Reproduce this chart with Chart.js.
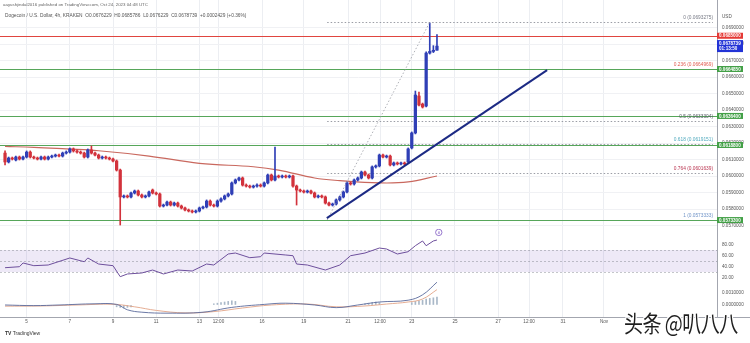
<!DOCTYPE html>
<html><head><meta charset="utf-8">
<script src="https://cdn.jsdelivr.net/npm/chart.js@4.4.1/dist/chart.umd.min.js"></script>
<style>
html,body{margin:0;padding:0;background:#fff;}
body{width:750px;height:343px;overflow:hidden;position:relative;font-family:"Liberation Sans",Arial,sans-serif;}
canvas{position:absolute;left:0;}
.txt{position:absolute;white-space:nowrap;line-height:1;}
</style></head><body>
<canvas id="cMain" width="750" height="229" style="top:0px;width:750px;height:229px"></canvas>
<canvas id="cRsi" width="750" height="51" style="top:229px;width:750px;height:51px"></canvas>
<canvas id="cMacd" width="750" height="51" style="top:280px;width:750px;height:51px"></canvas>
<div class="txt" style="left:3px;top:3px;font-size:4.4px;color:#666">aayushjindal2016 published on TradingView.com, Oct 24, 2023 04:48 UTC</div>
<div class="txt" style="left:5px;top:14px;font-size:4.8px;color:#555">Dogecoin / U.S. Dollar, 4h, KRAKEN&nbsp; O0.0676229&nbsp; H0.0685786&nbsp; L0.0676229&nbsp; C0.0678739&nbsp; +0.0002429 (+0.36%)</div>
<div class="txt" style="left:5px;top:331px;font-size:5px;color:#333"><b>TV</b> TradingView</div>
<div class="txt" style="left:624px;top:310px;font-size:19px;color:#1e1e1e;font-family:'Noto Sans CJK SC';letter-spacing:-0.5px;transform:scaleY(1.22);transform-origin:0 0;text-shadow:1px 1px 0 #fff,-1px -1px 0 #fff,1px -1px 0 #fff,-1px 1px 0 #fff">头条 @叭八八</div>
<script>
// ---------- DATA ----------
const opens = [0.06139,0.06085,0.06109,0.06097,0.06115,0.06103,0.06115,0.06145,0.06115,0.06109,
0.06103,0.06115,0.06103,0.06115,0.06121,0.06127,0.06121,0.06139,0.06145,0.06164,
0.06152,0.06145,0.06139,0.06115,0.06158,0.06139,0.06127,0.06109,0.06115,0.06109,
0.06103,0.06091,0.06036,0.05873,0.05879,0.05873,0.05897,0.05909,0.05885,0.05873,
0.05879,0.05915,0.05897,0.05891,0.05818,0.05824,0.05842,0.05824,0.05836,0.05818,
0.05806,0.05794,0.05788,0.05782,0.05788,0.05806,0.05812,0.05848,0.05824,0.05818,
0.05848,0.05861,0.05879,0.05891,0.05958,0.05976,0.05988,0.05945,0.05939,0.05933,
0.05939,0.05945,0.05939,0.05958,0.06006,0.05976,0.06000,0.05994,0.06000,0.05994,
0.06000,0.05939,0.05915,0.05909,0.05903,0.05909,0.05897,0.05873,0.05879,0.05873,
0.05836,0.05824,0.05830,0.05855,0.05873,0.05903,0.05958,0.05952,0.05976,0.05988,
0.06024,0.06006,0.05988,0.06055,0.06061,0.06127,0.06115,0.06121,0.06067,0.06079,
0.06073,0.06079,0.06085,0.06170,0.06261,0.06485,0.06436,0.06424,0.06745,0.06755,
0.0676229];
const closes = [0.06085,0.06109,0.06103,0.06115,0.06103,0.06115,0.06145,0.06115,0.06109,0.06103,
0.06115,0.06103,0.06115,0.06121,0.06127,0.06121,0.06139,0.06145,0.06164,0.06152,
0.06145,0.06139,0.06115,0.06158,0.06139,0.06127,0.06109,0.06115,0.06109,0.06103,
0.06091,0.06036,0.05873,0.05879,0.05873,0.05897,0.05909,0.05885,0.05873,0.05879,
0.05903,0.05897,0.05891,0.05818,0.05824,0.05842,0.05824,0.05836,0.05818,0.05806,
0.05794,0.05788,0.05782,0.05788,0.05806,0.05812,0.05848,0.05824,0.05818,0.05848,
0.05861,0.05879,0.05891,0.05958,0.05976,0.05988,0.05945,0.05939,0.05933,0.05939,
0.05945,0.05939,0.05958,0.06006,0.05976,0.06000,0.05994,0.06000,0.05994,0.06000,
0.05939,0.05915,0.05909,0.05903,0.05909,0.05897,0.05873,0.05879,0.05873,0.05836,
0.05824,0.05830,0.05855,0.05873,0.05903,0.05958,0.05952,0.05976,0.05988,0.06024,
0.06006,0.05988,0.06055,0.06061,0.06127,0.06115,0.06121,0.06067,0.06079,0.06073,
0.06079,0.06073,0.06164,0.06261,0.06491,0.06430,0.06418,0.06745,0.06755,0.06762,
0.0678739];
const highs = [0.06152,0.06115,0.06115,0.06121,0.06121,0.06121,0.06152,0.06152,0.06121,0.06115,
0.06121,0.06121,0.06121,0.06127,0.06133,0.06133,0.06145,0.06152,0.06170,0.06170,
0.06158,0.06152,0.06145,0.06164,0.06182,0.06145,0.06133,0.06121,0.06121,0.06115,
0.06109,0.06097,0.06042,0.05885,0.05885,0.05903,0.05915,0.05915,0.05891,0.05885,
0.05909,0.05921,0.05903,0.05897,0.05830,0.05848,0.05848,0.05842,0.05842,0.05824,
0.05812,0.05800,0.05794,0.05794,0.05812,0.05818,0.05855,0.05855,0.05830,0.05855,
0.05867,0.05885,0.05897,0.05964,0.05982,0.05994,0.05994,0.05952,0.05945,0.05945,
0.05952,0.05952,0.05964,0.06012,0.06012,0.06176,0.06006,0.06006,0.06006,0.06006,
0.06006,0.05945,0.05921,0.05915,0.05915,0.05915,0.05903,0.05885,0.05885,0.05879,
0.05842,0.05836,0.05861,0.05879,0.05909,0.05964,0.05964,0.05982,0.05994,0.06030,
0.06030,0.06012,0.06061,0.06067,0.06133,0.06133,0.06127,0.06127,0.06085,0.06085,
0.06085,0.06085,0.06170,0.06267,0.06515,0.06509,0.06442,0.06752,0.06927,0.06790,
0.0685786];
const lows = [0.06067,0.06079,0.06097,0.06091,0.06097,0.06097,0.06109,0.06109,0.06103,0.06097,
0.06097,0.06097,0.06097,0.06109,0.06115,0.06115,0.06115,0.06133,0.06139,0.06145,
0.06139,0.06133,0.06109,0.06109,0.06133,0.06121,0.06103,0.06103,0.06103,0.06097,
0.06085,0.06030,0.05703,0.05867,0.05867,0.05867,0.05891,0.05879,0.05867,0.05867,
0.05873,0.05891,0.05885,0.05812,0.05812,0.05818,0.05818,0.05818,0.05812,0.05800,
0.05788,0.05782,0.05776,0.05776,0.05782,0.05800,0.05806,0.05818,0.05812,0.05812,
0.05842,0.05855,0.05873,0.05885,0.05952,0.05970,0.05939,0.05933,0.05927,0.05927,
0.05933,0.05933,0.05933,0.05952,0.05970,0.05970,0.05988,0.05988,0.05988,0.05988,
0.05933,0.05824,0.05903,0.05897,0.05897,0.05891,0.05867,0.05867,0.05867,0.05830,
0.05818,0.05818,0.05824,0.05848,0.05867,0.05897,0.05945,0.05945,0.05970,0.05982,
0.06000,0.05982,0.05982,0.06048,0.06055,0.06109,0.06109,0.06061,0.06061,0.06067,
0.06067,0.06067,0.06079,0.06164,0.06255,0.06424,0.06412,0.06418,0.06739,0.06748,
0.0676229];

// moving average (red line) read at selected candles
const maIdx = [0,8,17,26,40,54,69,76,86,93,104,112,120];
const maVal = [0.06179,0.06174,0.06164,0.06153,0.06121,0.06077,0.06056,0.06036,0.05988,0.05972,0.05958,0.05964,0.06000];

// RSI read at selected candles
const rsiIdx = [0,4,5,8,12,18,22,23,26,30,32,34,38,41,44,48,52,56,58,62,64,68,71,72,78,80,81,84,89,93,96,100,104,106,109,112,114,116,117,119,120];
const rsiVal = [37.8,39.6,46.4,41.5,42.7,55.5,48.7,55.5,44.5,41.5,21.5,26.4,28.2,33.6,26.4,33.6,31.8,44.5,42.7,62.7,64.5,56.0,57.8,64.5,60.9,59.6,44.5,42.7,33.6,42.7,59.6,64.5,73.6,71.8,62.7,66.9,77.8,86.4,77.8,86.4,88.2];

// MACD
const macdIdx = [0,8,15,25,31,34,38,45,55,63,72,78,86,92,98,104,112,116,120];
const macdVal = [0,-0.00005,0,0.0001,0.00005,-0.0004,-0.0006,-0.00068,-0.0006,-0.0002,0.00005,0.00015,0,-0.00022,0,0.00025,0.0004,0.00085,0.0019];
const sigIdx = [0,10,20,30,36,42,50,58,66,74,84,92,100,106,112,116,120];
const sigVal = [-0.0001,-0.00008,0,0.00006,-0.00015,-0.00045,-0.00066,-0.00055,-0.00025,0,0.00008,-0.00015,-0.00008,0.00008,0.00025,0.0005,0.00128];
const histIdx = [31,32,33,34,35,58,59,60,61,62,63,64,100,101,102,103,104,113,114,115,116,117,118,119,120];
const histVal = [-0.00015,-0.0002,-0.00025,-0.0002,-0.00015,0.0001,0.00015,0.0002,0.00025,0.0003,0.00035,0.0003,0.0001,0.00015,0.0002,0.00025,0.0002,0.0002,0.0003,0.00035,0.0004,0.0005,0.00055,0.0006,0.00065];

// x axis ticks (candle index) and labels
const xTickPos = [6,18,30,42,54,59.3,71.4,83,95.3,104.2,113,125,137,145.6,155,166.4];
const xTickLabels = ["5","7","9","11","13","12:00","16","19","21","12:00","23","25","27","12:00","31","Nov"];
const xRange = [-1.4, 197.8];

// price axis
const priceRange = [0.056788, 0.070667];
const priceTicks = [0.057,0.058,0.059,0.060,0.061,0.062,0.063,0.064,0.065,0.066,0.067,0.068,0.069];
const rsiRange = [15.45, 108.18];
const rsiTicks = [20,40,60,80];
const rsiBand = [30,70];
const macdRange = [-0.001, 0.0020833];
const macdTicks = [0,0.001];

// drawn levels
const redLevel = 0.0685;
const greenLevels = [0.066485, 0.06364, 0.06188, 0.05733];
const lastPrice = 0.0678739;
const countdown = "01:13:50";
const fibHigh = 0.0693275, fibLow = 0.0573333;
const fibLevels = [0,0.236,0.5,0.618,0.764,1];
const fibColors = ['#787b86','#e0584f','#555a66','#4fa9bd','#b8324e','#6f93c7'];
const fibStartIdx = 89.5, fibHighIdx = 118;
const trendLine = [[89.4,0.05745],[150.6,0.06642]];
const rsiMarker = [120.5, 102];

// ---------- CHARTS ----------
Chart.defaults.font.family = "'Liberation Sans', Arial, sans-serif";
Chart.defaults.font.size = 4.6;
Chart.defaults.color = '#555';
const AXW = 33;
const common = {
  responsive:false, animation:false, devicePixelRatio:1, events:[],
  layout:{padding:0, autoPadding:false},
  plugins:{legend:{display:false}, tooltip:{enabled:false}}
};
function noPad(s){ s.paddingTop = 0; s.paddingBottom = 0; s.paddingLeft = 0; s.paddingRight = 0; }
function xScale(show){
  return {type:'linear', min:xRange[0], max:xRange[1], offset:false,
    afterBuildTicks(s){ s.ticks = xTickPos.map(v=>({value:v})); },
    grid:{color:'#eceef2', lineWidth:1, drawTicks:false, offset:false},
    border:{display:show, color:'#a3a6af'},
    ticks:{display:show, autoSkip:false, maxRotation:0, minRotation:0, padding:2, color:'#555', font:{size:4.6},
      callback:(v,i)=>xTickLabels[i]},
    afterFit(s){ s.height = show ? 14 : 0; noPad(s); }
  };
}
function yScale(range, ticks, fmt, gridColor){
  return {type:'linear', position:'right', min:range[0], max:range[1],
    afterBuildTicks(s){ s.ticks = ticks.map(v=>({value:v})); },
    grid:{color:gridColor, drawTicks:false},
    border:{display:true, color:'#a3a6af'},
    ticks:{padding:5, color:'#555', font:{size:4.6}, callback:v=>fmt(v)},
    afterFit(s){ s.width = AXW; noPad(s); }
  };
}
const idx = opens.map((_,i)=>i);
const upC = '#2f3fb6', dnC = '#d2323c';
const cols = idx.map(i=> closes[i]>=opens[i] ? upC : dnC);

function hLine(ctx, x1, x2, py){ ctx.beginPath(); ctx.moveTo(x1, py); ctx.lineTo(x2, py); ctx.stroke(); }
function box(ctx, a, py, h, bg, lines){
  ctx.fillStyle = bg; ctx.fillRect(a.right, py - h/2, 26, h);
  ctx.fillStyle = '#fff'; ctx.font = 'bold 4.6px "Liberation Sans", Arial'; ctx.textAlign='left'; ctx.textBaseline='middle';
  if (lines.length === 1) ctx.fillText(lines[0], a.right+2, py+0.3);
  else { ctx.fillText(lines[0], a.right+2, py-2.6); ctx.fillText(lines[1], a.right+2, py+2.8); }
}

const mainOverlay = {
  id:'mainOverlay',
  beforeDatasetsDraw(chart){
    const {ctx, chartArea:a, scales:{x,y}} = chart;
    ctx.save();
    ctx.lineWidth = 0.9; ctx.strokeStyle = '#8e929b'; ctx.setLineDash([1.5,2]);
    const fx = x.getPixelForValue(fibStartIdx);
    fibLevels.forEach(l=>{
      const v = fibHigh - (fibHigh - fibLow)*l;
      hLine(ctx, fx, a.right-4, Math.round(y.getPixelForValue(v))+0.5);
    });
    ctx.setLineDash([]);
    ctx.lineWidth = 1.2; ctx.strokeStyle = '#56a65a';
    greenLevels.forEach(v=> hLine(ctx, a.left, a.right, Math.round(y.getPixelForValue(v))+0.5));
    ctx.strokeStyle = '#e0453f';
    hLine(ctx, a.left, a.right, Math.round(y.getPixelForValue(redLevel))+0.5);
    ctx.restore();
  },
  afterDraw(chart){
    const {ctx, chartArea:a, scales:{y}} = chart;
    ctx.save();
    ctx.font = '4.8px "Liberation Sans", Arial'; ctx.textAlign='right'; ctx.textBaseline='alphabetic';
    fibLevels.forEach((l,k)=>{
      const v = fibHigh - (fibHigh - fibLow)*l;
      ctx.fillStyle = fibColors[k];
      ctx.fillText(l + ' (' + v.toFixed(7) + ')', a.right-4, y.getPixelForValue(v)-3);
    });
    box(ctx, a, y.getPixelForValue(redLevel), 6, '#e53935', [redLevel.toFixed(7)]);
    greenLevels.forEach(v=> box(ctx, a, y.getPixelForValue(v), 6, '#43a047', [v.toFixed(7)]));
    box(ctx, a, y.getPixelForValue(lastPrice), 12, '#2233d6', [lastPrice.toFixed(7), countdown]);
    ctx.fillStyle = '#555'; ctx.font = '4.6px "Liberation Sans", Arial'; ctx.textAlign='left'; ctx.textBaseline='middle';
    ctx.fillText('USD', a.right+5, 17);
    ctx.restore();
  }
};

new Chart(document.getElementById('cMain'), {
  type:'bar',
  data:{datasets:[
    {type:'line', data: maIdx.map((v,k)=>({x:v, y:maVal[k]})), borderColor:'#c9685e', borderWidth:1.2, pointRadius:0, tension:0.4, order:4},
    {type:'bar', data: idx.map(i=>({x:i, y:[lows[i], highs[i]]})), backgroundColor:cols, barThickness:1, grouped:false, order:3},
    {type:'bar', data: idx.map(i=>({x:i, y:[opens[i], closes[i]]})), backgroundColor:cols, barThickness:2.6, minBarLength:1, grouped:false, order:2},
    {type:'line', data: [{x:fibStartIdx, y:fibLow},{x:fibHighIdx, y:fibHigh}], borderColor:'#9a9da5', borderWidth:0.8, borderDash:[1.5,2], pointRadius:0, order:1},
    {type:'line', data: trendLine.map(p=>({x:p[0], y:p[1]})), borderColor:'#1c2a84', borderWidth:2, pointRadius:0, order:0}
  ]},
  options:Object.assign({}, common, {
    scales:{ x:xScale(false), y:yScale(priceRange, priceTicks, v=>v.toFixed(7), '#f0f1f4') }
  }),
  plugins:[mainOverlay]
});

const rsiOverlay = {
  id:'rsiOverlay',
  beforeDatasetsDraw(chart){
    const {ctx, chartArea:a, scales:{y}} = chart;
    ctx.save();
    const t = y.getPixelForValue(rsiBand[1]), b = y.getPixelForValue(rsiBand[0]);
    ctx.fillStyle = 'rgba(126,87,194,0.13)'; ctx.fillRect(a.left, t, a.right-a.left, b-t);
    ctx.strokeStyle = 'rgba(120,123,134,0.55)'; ctx.lineWidth = 0.8; ctx.setLineDash([2,2]);
    [rsiBand[1], 50, rsiBand[0]].forEach(v=> hLine(ctx, a.left, a.right, Math.round(y.getPixelForValue(v))+0.5));
    ctx.restore();
  },
  afterDraw(chart){
    const {ctx, scales:{x,y}} = chart;
    const px = x.getPixelForValue(rsiMarker[0]), py = y.getPixelForValue(rsiMarker[1]);
    ctx.save();
    ctx.strokeStyle = '#7e57c2'; ctx.lineWidth = 0.8;
    ctx.beginPath(); ctx.arc(px, py, 3.2, 0, Math.PI*2); ctx.stroke();
    ctx.fillStyle = '#7e57c2'; ctx.font = 'bold 4px "Liberation Sans", Arial'; ctx.textAlign='center'; ctx.textBaseline='middle';
    ctx.fillText('#', px, py+0.2);
    ctx.restore();
  }
};
new Chart(document.getElementById('cRsi'), {
  type:'line',
  data:{datasets:[
    {data: rsiIdx.map((v,k)=>({x:v, y:rsiVal[k]})), borderColor:'#6d4f9c', borderWidth:1, pointRadius:0, tension:0}
  ]},
  options:Object.assign({}, common, {
    scales:{ x:xScale(false), y:yScale(rsiRange, rsiTicks, v=>v.toFixed(2), 'rgba(0,0,0,0)') }
  }),
  plugins:[rsiOverlay]
});

const macdOverlay = {
  id:'macdOverlay',
  afterDraw(chart){
    const {ctx, chartArea:a} = chart;
    ctx.save(); ctx.strokeStyle = '#a3a6af'; ctx.lineWidth = 1;
    hLine(ctx, a.right, chart.width, a.bottom+0.5);
    ctx.restore();
  }
};
new Chart(document.getElementById('cMacd'), {
  type:'bar',
  data:{datasets:[
    {type:'line', data: sigIdx.map((v,k)=>({x:v, y:sigVal[k]})), borderColor:'#e2a487', borderWidth:0.9, pointRadius:0, tension:0.4, order:1},
    {type:'line', data: macdIdx.map((v,k)=>({x:v, y:macdVal[k]})), borderColor:'#5a6a9c', borderWidth:0.9, pointRadius:0, tension:0.4, order:0},
    {type:'bar', data: histIdx.map((v,k)=>({x:v, y:histVal[k]})), backgroundColor:'#a9b8c8', barThickness:1, grouped:false, order:2}
  ]},
  options:Object.assign({}, common, {
    scales:{ x:xScale(true), y:yScale(macdRange, macdTicks, v=>v.toFixed(7), 'rgba(0,0,0,0)') }
  }),
  plugins:[macdOverlay]
});
</script>
</body></html>
